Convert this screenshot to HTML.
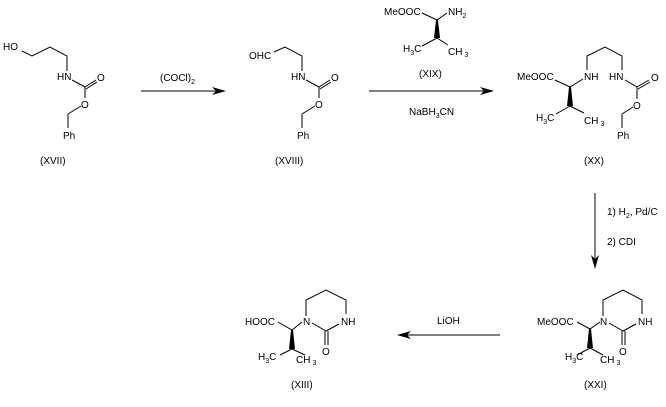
<!DOCTYPE html>
<html><head><meta charset="utf-8"><style>
html,body{margin:0;padding:0;background:#fff;}
svg{display:block;}
text{font-family:"Liberation Sans",Arial,sans-serif;font-size:10px;fill:#000;}
.s{font-size:7px;}
line,polyline{stroke:#000;stroke-width:1;fill:none;}
</style></head><body>
<svg width="666" height="407" viewBox="0 0 666 407" xmlns="http://www.w3.org/2000/svg">
<!-- XVII -->
<text x="3" y="50">HO</text>
<polyline points="22,51 32,56 50,47 67,56 67,71"/>
<text x="57" y="80">HN</text>
<line x1="72" y1="80" x2="85" y2="87"/>
<line x1="85" y1="87" x2="96" y2="80"/><line x1="86" y1="89" x2="97" y2="82"/>
<text x="97" y="81">O</text>
<line x1="85" y1="87" x2="85" y2="98"/>
<text x="81" y="108">O</text>
<line x1="81" y1="106" x2="68" y2="114"/>
<line x1="68" y1="114" x2="68" y2="128"/>
<text x="63" y="139">Ph</text>
<text x="40" y="164">(XVII)</text>
<!-- arrow 1 -->
<line x1="141" y1="91" x2="220" y2="91"/>
<polygon points="226,91 212,87 216,91 212,95"/>
<text x="160" y="81">(COCl)<tspan class="s" dy="3">2</tspan></text>
<!-- XVIII -->
<text x="249" y="59">OHC</text>
<polyline points="274,52 285,47 302,56 302,71"/>
<text x="291" y="80">HN</text>
<line x1="306" y1="80" x2="319" y2="87"/>
<line x1="319" y1="87" x2="330" y2="80"/><line x1="320" y1="89" x2="331" y2="82"/>
<text x="331" y="81">O</text>
<line x1="319" y1="87" x2="319" y2="98"/>
<text x="315" y="108">O</text>
<line x1="315" y1="106" x2="302" y2="114"/>
<line x1="302" y1="114" x2="302" y2="128"/>
<text x="297" y="139">Ph</text>
<text x="275" y="164">(XVIII)</text>
<!-- XIX -->
<text x="384" y="15">MeOOC</text>
<polyline points="422,13 437,20 447,13"/>
<text x="448" y="15">NH<tspan class="s" dy="3">2</tspan></text>
<polygon points="436,20 438,20 440,38 434,38"/>
<line x1="437" y1="38" x2="422" y2="46"/>
<line x1="437" y1="38" x2="448" y2="45"/>
<text x="403" y="52">H<tspan class="s" dy="3">3</tspan><tspan dy="-3">C</tspan></text>
<text x="448" y="55">CH<tspan class="s" dx="2" dy="2">3</tspan></text>
<text x="419" y="77">(XIX)</text>
<!-- arrow 2 -->
<line x1="369" y1="91" x2="488" y2="91"/>
<polygon points="494,91 480,87 484,91 480,95"/>
<text x="409" y="115">NaBH<tspan class="s" dy="3">3</tspan><tspan dy="-3">CN</tspan></text>
<!-- XX -->
<text x="517" y="80">MeOOC</text>
<polyline points="555,80 570,87 583,79"/>
<text x="584" y="80">NH</text>
<polyline points="587,70 587,56 605,47 622,56 622,70"/>
<text x="609" y="80">HN</text>
<line x1="625" y1="80" x2="637" y2="87"/>
<line x1="637" y1="87" x2="649" y2="80"/><line x1="638" y1="89" x2="650" y2="82"/>
<text x="651" y="81">O</text>
<line x1="637" y1="87" x2="637" y2="99"/>
<text x="633" y="109">O</text>
<line x1="633" y1="107" x2="622" y2="114"/>
<line x1="622" y1="114" x2="622" y2="128"/>
<text x="617" y="139">Ph</text>
<polygon points="569,87 571,87 573,106 567,106"/>
<line x1="570" y1="106" x2="556" y2="114"/>
<line x1="570" y1="106" x2="584" y2="113"/>
<text x="536" y="121">H<tspan class="s" dy="3">3</tspan><tspan dy="-3">C</tspan></text>
<text x="584" y="124">CH<tspan class="s" dx="2" dy="2">3</tspan></text>
<text x="584" y="164">(XX)</text>
<!-- arrow 3 -->
<line x1="595" y1="193" x2="595" y2="262"/>
<polygon points="595,269 591,255 595,259 599,255"/>
<text x="607" y="215">1) H<tspan class="s" dy="3">2</tspan><tspan dy="-3">, Pd/C</tspan></text>
<text x="607" y="245">2) CDI</text>
<!-- XXI -->
<text x="537" y="325">MeOOC</text>
<polyline points="577,322 590,329 600,322"/>
<text x="600" y="325">N</text>
<polyline points="603,316 603,300 623,290 642,300 642,314"/>
<text x="638" y="325">NH</text>
<line x1="609" y1="323" x2="623" y2="331"/>
<line x1="623" y1="331" x2="636" y2="324"/>
<line x1="622" y1="331" x2="622" y2="345"/><line x1="625" y1="331" x2="625" y2="345"/>
<text x="619" y="355">O</text>
<polygon points="589,329 591,329 593,348 587,348"/>
<line x1="590" y1="348" x2="577" y2="355"/>
<line x1="590" y1="348" x2="603" y2="355"/>
<text x="565" y="360">H<tspan class="s" dy="3">3</tspan><tspan dy="-3">C</tspan></text>
<text x="600" y="363">CH<tspan class="s" dx="2" dy="2">3</tspan></text>
<text x="584" y="388">(XXI)</text>
<!-- arrow 4 -->
<line x1="500" y1="335" x2="403" y2="335"/>
<polygon points="397,335 411,331 407,335 411,339"/>
<text x="437" y="324">LiOH</text>
<!-- XIII -->
<text x="245" y="325">HOOC</text>
<polyline points="278,322 292,330 302,322"/>
<text x="303" y="325">N</text>
<polyline points="306,316 306,300 326,290 346,300 346,314"/>
<text x="341" y="325">NH</text>
<line x1="312" y1="323" x2="326" y2="331"/>
<line x1="326" y1="331" x2="339" y2="324"/>
<line x1="325" y1="331" x2="325" y2="345"/><line x1="328" y1="331" x2="328" y2="345"/>
<text x="322" y="355">O</text>
<polygon points="291,330 293,330 295,349 289,349"/>
<line x1="292" y1="349" x2="280" y2="355"/>
<line x1="292" y1="349" x2="305" y2="355"/>
<text x="258" y="360">H<tspan class="s" dy="3">3</tspan><tspan dy="-3">C</tspan></text>
<text x="296" y="363">CH<tspan class="s" dx="2" dy="2">3</tspan></text>
<text x="291" y="388">(XIII)</text>
</svg>
</body></html>
